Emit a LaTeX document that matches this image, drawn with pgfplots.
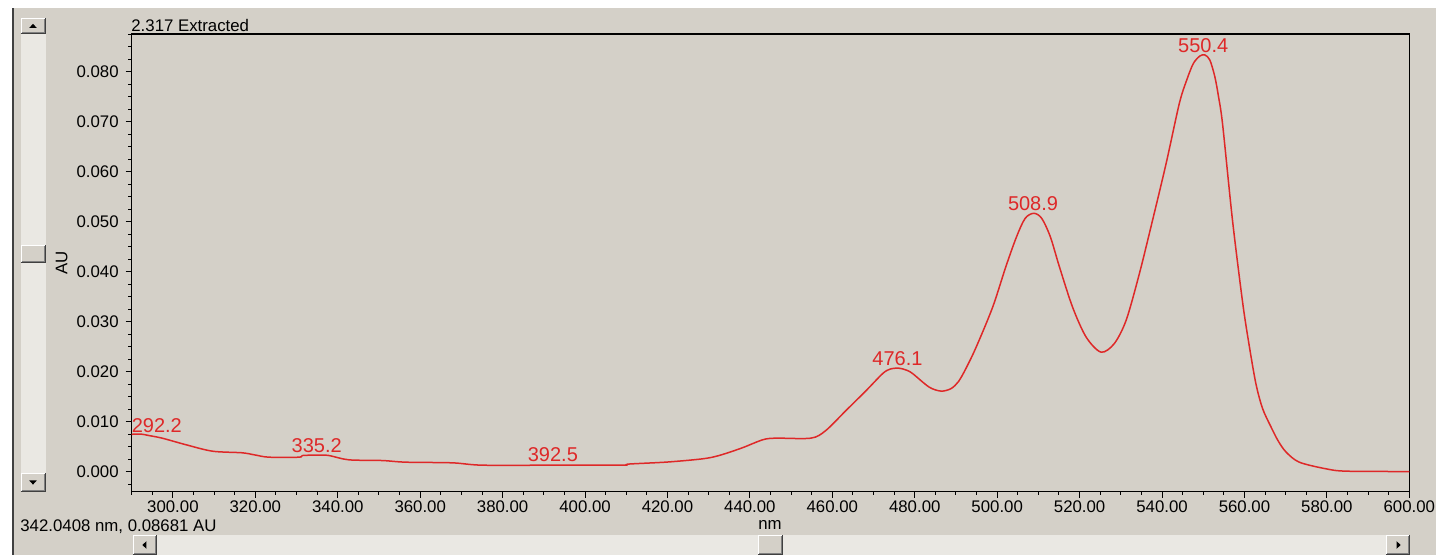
\documentclass[border=0pt]{standalone}
\usepackage{pgfplots}
\pgfplotsset{compat=1.18}
\usepackage{pgfplotstable}
\usepackage{fontspec}
\setmainfont{Liberation Sans}
\definecolor{winbg}{RGB}{212,208,200}
\definecolor{track}{RGB}{234,232,227}
\definecolor{specred}{RGB}{222,40,40}
\definecolor{shadow}{RGB}{128,128,128}
\definecolor{dkshadow}{RGB}{64,64,64}

\newcommand{\winbutton}[4]{%
  \fill[winbg] (#1bp,#2bp) rectangle (#3bp,#4bp);
  \draw[white,line width=0.5bp] (#1bp+0.25bp,#2bp+0.5bp) -- (#1bp+0.25bp,#4bp-0.25bp) -- (#3bp-0.5bp,#4bp-0.25bp);
  \draw[dkshadow,line width=0.5bp] (#1bp,#2bp+0.25bp) -- (#3bp-0.25bp,#2bp+0.25bp) -- (#3bp-0.25bp,#4bp);
  \draw[shadow,line width=0.5bp] (#1bp+0.5bp,#2bp+0.75bp) -- (#3bp-0.75bp,#2bp+0.75bp) -- (#3bp-0.75bp,#4bp-0.5bp);
}

\pgfplotstableread{
x y
290.0 0.00745
292.2 0.00750
294.2 0.00720
297.4 0.00668
303.0 0.00540
309.6 0.00407
316.8 0.00375
320.0 0.00330
323.3 0.00287
330.6 0.00287
331.4 0.00320
335.2 0.00330
337.9 0.00320
342.7 0.00234
350.8 0.00220
356.5 0.00187
367.8 0.00174
375.1 0.00127
392.5 0.00127
409.1 0.00127
410.7 0.00150
420.0 0.00190
428.5 0.00254
432.5 0.00320
438.0 0.00470
443.1 0.00635
446.3 0.00668
454.8 0.00668
458.4 0.00820
463.3 0.01220
468.2 0.01620
472.2 0.01960
474.0 0.02050
476.1 0.02070
478.0 0.02030
479.5 0.01960
483.5 0.01690
486.4 0.01610
488.8 0.01660
490.6 0.01800
492.4 0.02060
494.9 0.02490
498.9 0.03290
502.1 0.04100
504.7 0.04700
506.8 0.05070
508.9 0.05170
510.8 0.05070
512.9 0.04700
515.1 0.04100
518.3 0.03290
521.6 0.02690
525.2 0.02390
528.4 0.02560
531.3 0.03030
534.5 0.03960
537.7 0.05030
541.0 0.06170
544.2 0.07370
546.0 0.07840
547.6 0.08170
549.2 0.08320
550.4 0.08340
551.6 0.08240
552.8 0.07910
553.7 0.07510
554.7 0.06950
557.1 0.05030
559.6 0.03360
561.2 0.02500
562.8 0.01750
564.4 0.01260
566.4 0.00900
568.2 0.00610
570.1 0.00390
573.3 0.00187
579.8 0.00054
584.7 0.00007
600.0 0.00000
}\spectrum

\begin{document}
\begin{tikzpicture}
\useasboundingbox (0,0) rectangle (718bp,277.5bp);
\fill[white] (0,0) rectangle (718bp,277.5bp);
\fill[winbg] (6.75bp,0) rectangle (718bp,273.5bp);
\draw[dkshadow,line width=1bp] (6.4bp,0) -- (6.4bp,273.5bp);
% vertical scrollbar
\fill[track] (10.35bp,41bp) rectangle (23bp,260.5bp);
\winbutton{10.35}{260.5}{23}{268.5}
\fill[black] (16.5bp,265.6bp) -- (14.6bp,263.5bp) -- (18.4bp,263.5bp) -- cycle;
\winbutton{10.35}{31.5}{23}{41}
\fill[black] (14.6bp,37.3bp) -- (18.4bp,37.3bp) -- (16.5bp,35.2bp) -- cycle;
\winbutton{10.35}{146}{23}{155}
% horizontal scrollbar
\fill[track] (66.5bp,0) rectangle (705bp,10bp);
\winbutton{66.5}{0}{78.5}{10}
\fill[black] (71.2bp,5bp) -- (73.2bp,3.1bp) -- (73.2bp,6.9bp) -- cycle;
\winbutton{693}{0}{705}{10}
\fill[black] (700.3bp,5bp) -- (698.3bp,3.1bp) -- (698.3bp,6.9bp) -- cycle;
\winbutton{379}{0}{391.5}{10}

\begin{axis}[
  at={(65.85bp,31.65bp)}, anchor=south west,
  scale only axis, width=638.8bp, height=228.85bp,
  xmin=290, xmax=600, ymin=-0.00404, ymax=0.0876,
  clip=false,
  axis line style={black, line width=0.6bp},
  tick pos=left, tick align=outside,
  major tick length=3bp, minor tick length=1.6bp,
  every tick/.style={black, line width=0.5bp},
  xtick={300,320,340,360,380,400,420,440,460,480,500,520,540,560,580,600},
  minor xtick={290,295,305,310,315,325,330,335,345,350,355,365,370,375,385,390,395,405,410,415,425,430,435,445,450,455,465,470,475,485,490,495,505,510,515,525,530,535,545,550,555,565,570,575,585,590,595},
  ytick={0,0.01,0.02,0.03,0.04,0.05,0.06,0.07,0.08},
  minor ytick={-0.0025,0.0025,0.005,0.0075,0.0125,0.015,0.0175,0.0225,0.025,0.0275,0.0325,0.035,0.0375,0.0425,0.045,0.0475,0.0525,0.055,0.0575,0.0625,0.065,0.0675,0.0725,0.075,0.0775,0.0825,0.085,0.0875},
  scaled y ticks=false, scaled x ticks=false,
  /pgf/number format/assume math mode=true,
  ticklabel style={font=\fontsize{8.4bp}{10bp}\selectfont, black},
  xticklabel style={yshift=2bp, /pgf/number format/.cd, fixed, fixed zerofill, precision=2, 1000 sep={}},
  yticklabel style={/pgf/number format/.cd, fixed, fixed zerofill, precision=3},
]
\addplot[specred, line width=0.75bp, smooth, tension=0.5] table[x=x,y=y] {\spectrum};
\begin{scope}[every node/.style={text=specred, font=\fontsize{10bp}{12bp}\selectfont, inner sep=0pt}]
\node at (axis cs:296.1,0.00911) {292.2};
\node at (axis cs:334.9,0.00517) {335.2};
\node at (axis cs:392.2,0.00330) {392.5};
\node at (axis cs:475.8,0.02253) {476.1};
\node at (axis cs:508.7,0.05356) {508.9};
\node at (axis cs:550.0,0.08526) {550.4};
\end{scope}
\end{axis}

\begin{scope}[every node/.style={font=\fontsize{8.4bp}{10bp}\selectfont, inner sep=0pt, text=black}]
\node[anchor=west] at (65.5bp,264.7bp) {2.317 Extracted};
\node[rotate=90] at (30.85bp,146bp) {AU};
\node at (385bp,15bp) {nm};
\node[anchor=west] at (10bp,14bp) {342.0408 nm, 0.08681 AU};
\end{scope}
\end{tikzpicture}
\end{document}
